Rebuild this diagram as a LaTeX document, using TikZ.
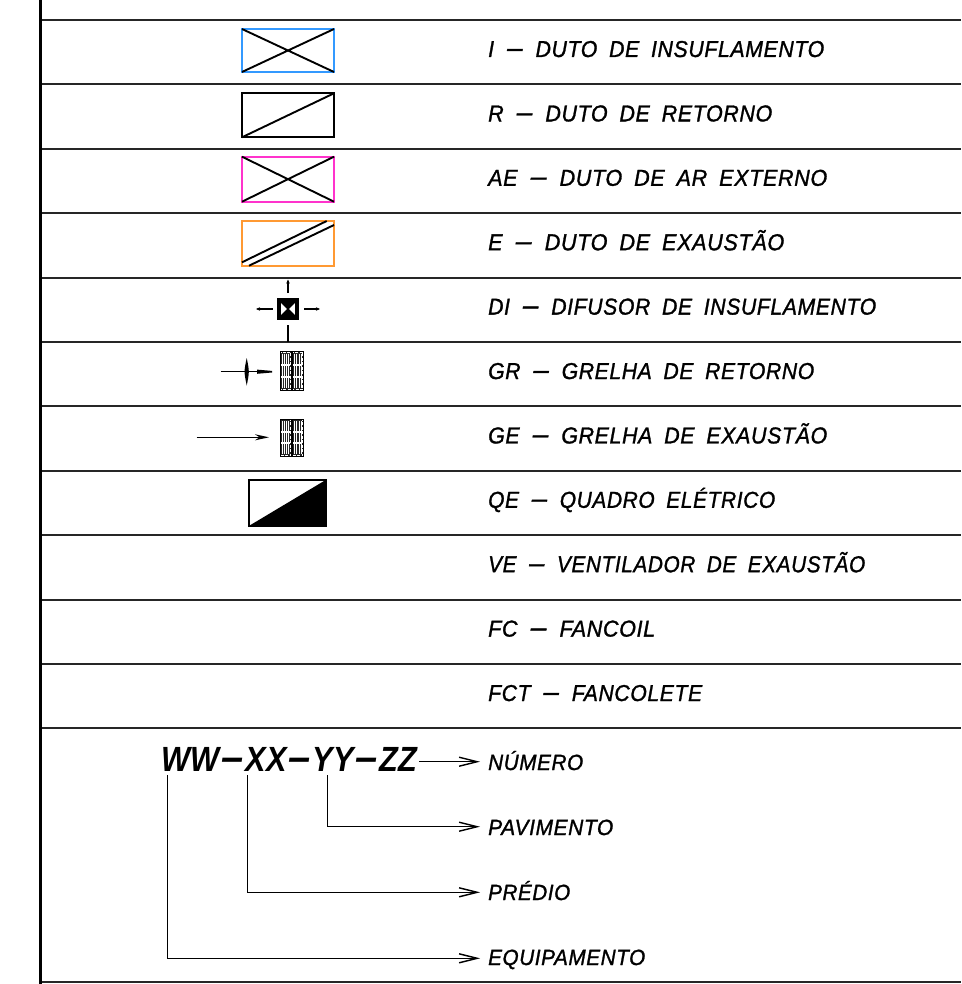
\documentclass[tikz,border=0pt]{standalone}
\usepackage{fontspec}
\usepackage{graphicx}
\usetikzlibrary{arrows.meta,calc}
\newfontfamily\lgfont{Liberation Sans}[WordSpace=1.8,LetterSpace=3,FakeBold=1.3]
\newfontfamily\lgbold{Liberation Sans}[WordSpace=1.0,LetterSpace=1]
\definecolor{insblue}{HTML}{3399FF}
\definecolor{aemag}{HTML}{FF33CC}
\definecolor{exor}{HTML}{FF9933}
\newcommand{\lgtxt}[2]{\resizebox{#1pt}{\height}{\lgfont\itshape #2}}
\newcommand{\lgdash}{\kern0.06em\scalebox{1.3}[1.2]{\textendash}\kern0.06em}
\tikzset{
  gridline/.style={line width=2pt,draw=black!85},
  frameline/.style={line width=3pt,draw=black},
  lbl/.style={anchor=base west,inner sep=0pt,font=\fontsize{23}{23}\selectfont},
  sublbl/.style={anchor=base west,inner sep=0pt,font=\fontsize{22}{22}\selectfont},
  sym/.style={line width=1.9pt},
  leader/.style={line width=1.5pt,-{Straight Barb[length=18pt,width=9pt,line width=1.4pt]}},
}
\begin{document}
\begin{tikzpicture}[x=1pt,y=-1pt]
\useasboundingbox (0,0) rectangle (961,984);
% table grid
\foreach \i in {0,...,11}{
  \draw[gridline] (40,{20+\i*64.4}) -- (961,{20+\i*64.4});
}
\draw[gridline] (40,982) -- (961,982);
\draw[frameline] (40,0) -- (40,984);

% labels
\node[lbl] (tI)   at (488,{20+0*64.4+37}) {\lgtxt{336}{I \lgdash{} DUTO DE INSUFLAMENTO}};
\node[lbl] (tR)   at (488,{20+1*64.4+37}) {\lgtxt{284}{R \lgdash{} DUTO DE RETORNO}};
\node[lbl] (tAE)  at (488,{20+2*64.4+37}) {\lgtxt{339}{AE \lgdash{} DUTO DE AR EXTERNO}};
\node[lbl] (tE)   at (488,{20+3*64.4+37}) {\lgtxt{296}{E \lgdash{} DUTO DE EXAUSTÃO}};
\node[lbl] (tDI)  at (488,{20+4*64.4+37}) {\lgtxt{388}{DI \lgdash{} DIFUSOR DE INSUFLAMENTO}};
\node[lbl] (tGR)  at (488,{20+5*64.4+37}) {\lgtxt{326}{GR \lgdash{} GRELHA DE RETORNO}};
\node[lbl] (tGE)  at (488,{20+6*64.4+37}) {\lgtxt{339}{GE \lgdash{} GRELHA DE EXAUSTÃO}};
\node[lbl] (tQE)  at (488,{20+7*64.4+37}) {\lgtxt{287}{QE \lgdash{} QUADRO ELÉTRICO}};
\node[lbl] (tVE)  at (488,{20+8*64.4+37}) {\lgtxt{377}{VE \lgdash{} VENTILADOR DE EXAUSTÃO}};
\node[lbl] (tFC)  at (488,{20+9*64.4+37}) {\lgtxt{167}{FC \lgdash{} FANCOIL}};
\node[lbl] (tFCT) at (488,{20+10*64.4+37}) {\lgtxt{214}{FCT \lgdash{} FANCOLETE}};

% I - insuflamento
\draw[sym,insblue] (242,29) rectangle (334,72);
\draw[sym] (242,29) -- (334,72) (242,72) -- (334,29);
% R - retorno
\draw[sym,line width=2.2pt] (242,93.3) rectangle (334,137.3);
\draw[sym] (242,137.3) -- (334,93.3);
% AE
\draw[sym,aemag] (242,156.7) rectangle (334,201.7);
\draw[sym] (242,156.7) -- (334,201.7) (242,201.7) -- (334,156.7);
% E
\draw[sym,exor] (242,221) rectangle (334,265.7);
\draw[sym] (242,262.3) -- (326.7,221) (249,265.7) -- (334,225);

% DI - difusor
\fill[black] (277,298) rectangle (299,320);
\fill[white] (281,302) rectangle (295,316);
\fill[black] (281,302) -- (295,302) -- (288,309) -- cycle;
\fill[black] (281,316) -- (295,316) -- (288,309) -- cycle;
\draw[line width=1.2pt] (281,302) -- (295,316) (281,316) -- (295,302);
\draw[line width=1.5pt,-{Stealth[length=4pt,width=3.5pt]}] (288,293) -- (288,279.5);
\draw[line width=1.5pt] (288,325) -- (288,342);
\draw[line width=1.5pt,-{Stealth[length=4pt,width=3.5pt]}] (272.5,309) -- (256,309);
\draw[line width=1.5pt,-{Stealth[length=4pt,width=3.5pt]}] (304,309) -- (320,309);

% GR
\draw[line width=1.5pt] (220.7,371.7) -- (258,371.7);
\fill[black] (246.7,358) .. controls (249.5,371.7) .. (246.7,385.5) .. controls (243.9,371.7) .. cycle;
\fill[black] (257,369.6) -- (272,370.9) -- (272,372.5) -- (257,373.8) -- cycle;
\foreach \gy/\gh in {351.7/390.3,419/456}{
  \foreach \gx in {280,292.3}{
    \fill[black!85] (\gx,\gy) rectangle ({\gx+11},\gh);
    \draw[white,line width=0.8pt,dash pattern=on 3pt off 1.5pt] ({\gx+0.5},{\gy+0.5}) rectangle ({\gx+10.5},{\gh-0.5});
    \draw[black,line width=0.6pt] (\gx,\gy) rectangle ({\gx+11},\gh);
    \foreach \k in {1,2,3,4}{
      \draw[white,line width=0.7pt] ({\gx+\k*2.2},{\gy+2}) -- ({\gx+\k*2.2},{\gh-2});
    }
    \draw[white,line width=1.6pt] ({\gx+1},{\gy+(\gh-\gy)*0.35}) -- ({\gx+10},{\gy+(\gh-\gy)*0.35});
    \draw[white,line width=1.6pt] ({\gx+1},{\gy+(\gh-\gy)*0.65}) -- ({\gx+10},{\gy+(\gh-\gy)*0.65});
  }
}
% GE arrow
\draw[line width=1.5pt,-{Stealth[length=14pt,width=6pt]}] (196.7,437.3) -- (269,437.3);

% QE
\fill[black] (249.3,525.7) -- (325.7,480) -- (325.7,525.7) -- cycle;
\draw[line width=2.2pt] (249.3,480) rectangle (325.7,525.7);

% code breakdown
\node[anchor=base west,inner sep=0pt,font=\fontsize{35}{35}\selectfont] (code) at (161,771.7)
  {\resizebox{256pt}{\height}{\lgbold\bfseries\itshape WW\lgdash XX\lgdash YY\lgdash ZZ}};
\node[sublbl] (num) at (488,770) {\lgtxt{95}{NÚMERO}};
\node[sublbl] (pav) at (488,835) {\lgtxt{125}{PAVIMENTO}};
\node[sublbl] (pre) at (488,900) {\lgtxt{82}{PRÉDIO}};
\node[sublbl] (equ) at (488,965) {\lgtxt{157}{EQUIPAMENTO}};

\coordinate (zz) at (419.3,761.7);
\coordinate (ww) at (167.7,775);
\coordinate (xx) at (247.3,775);
\coordinate (yy) at (327.3,775);
\coordinate (numin) at (480,761.7);
\coordinate (pavin) at (480,826.7);
\coordinate (prein) at (480,892.3);
\coordinate (equin) at (480,958.3);
\draw[leader] (zz) -- (numin);
\draw[leader] (yy) |- (pavin);
\draw[leader] (xx) |- (prein);
\draw[leader] (ww) |- (equin);
\end{tikzpicture}
\end{document}
